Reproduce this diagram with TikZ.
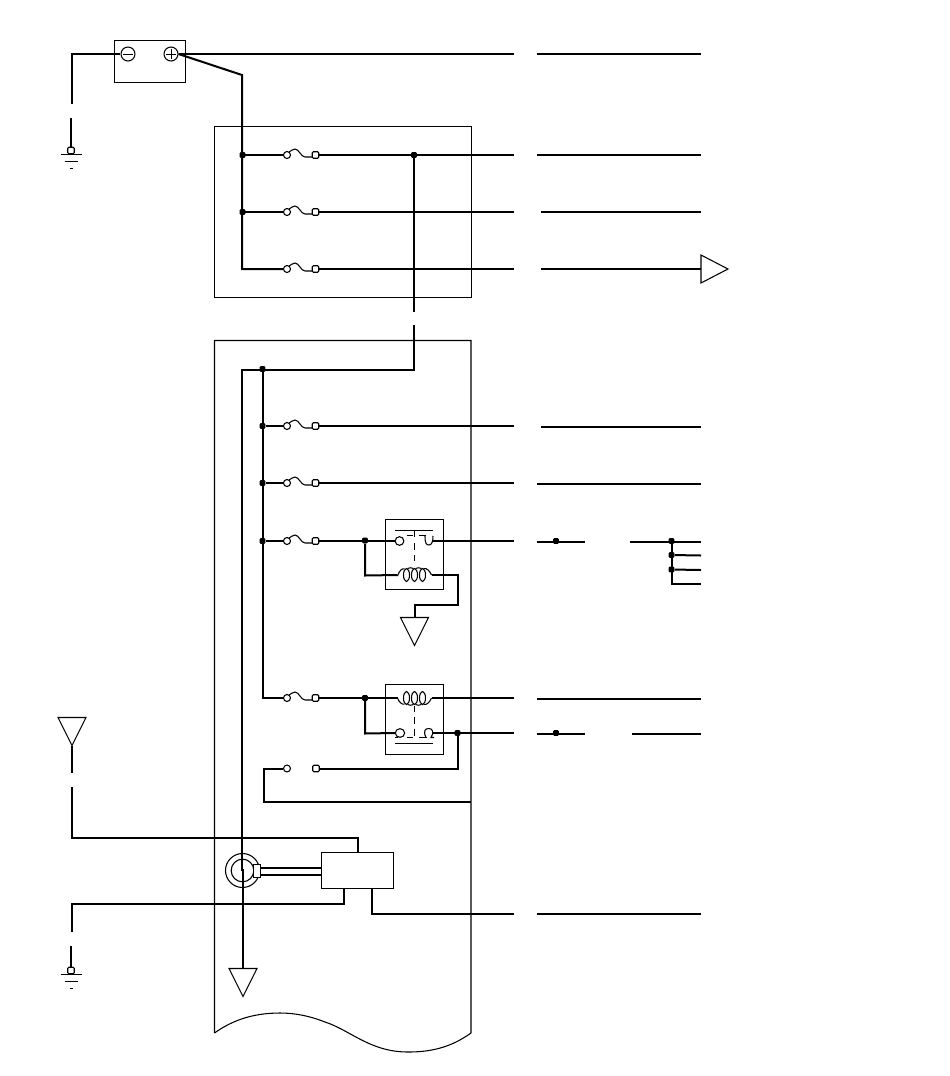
\documentclass[tikz,border=0pt]{standalone}
\usetikzlibrary{shapes.geometric}
\tikzset{
  x=0.75pt, y=-0.75pt,
  thinl/.style={line width=0.8pt, black},
  wire/.style={line width=1.5pt, black, line join=miter},
  jdot/.style={rectangle, rounded corners=0.8pt, fill=black, inner sep=0pt, minimum size=4.2pt},
  unit/.style={draw, line width=0.8pt, inner sep=0pt, outer sep=0pt},
  tinysq/.style={draw, line width=0.8pt, inner sep=0pt, outer sep=0pt, minimum size=4.9pt, rounded corners=0.9pt},
  pics/fuse/.style={code={
    \draw[thinl] (0,0) circle[radius=3.5];
    \draw[thinl] (2,-3) .. controls (4,-4) and (6,-6) .. (8,-6) .. controls (12,-6) and (14,2) .. (18,2) -- (25,2);
    \node[tinysq] (-sq) at (28.5,0) {};
    \coordinate (-in) at (-4,0);
    \coordinate (-out) at (32,0);
  }},
  pics/ground/.style={code={
    \node[tinysq] (-sq) at (0,0) {};
    \draw[thinl] (-10.5,4) -- (10.5,4);
    \draw[thinl] (-6.5,11) -- (6.5,11);
    \draw[thinl] (-1.5,18) -- (1.5,18);
    \coordinate (-top) at (0,-3.5);
  }},
  pics/tridown/.style={code={
    \draw[thinl] (-14,0) -- (14,0) -- (0,28) -- cycle;
    \coordinate (-top) at (0,0);
    \coordinate (-tip) at (0,28);
  }},
  pics/coilup/.style={code={
    \draw[thinl] (-17,1) .. controls (-15,-5) and (-12,-7) .. (-10,-6);
    \foreach \c in {-8,0,8} {
      \draw[thinl] (\c,0) ellipse[x radius=3, y radius=6.5];
    }
    \draw[thinl] (-7,-6.5) .. controls (-5,-7.5) and (-3,-7.5) .. (-1,-6.5);
    \draw[thinl] (1,-6.5) .. controls (3,-7.5) and (5,-7.5) .. (7,-6.5);
    \draw[thinl] (9,-6.5) .. controls (13,-7) and (15,-4) .. (17,0);
    \coordinate (-l) at (-17,0);
    \coordinate (-r) at (17,0);
  }},
  pics/coildown/.style={code={
    \draw[thinl] (-17,0) .. controls (-15,5) and (-12,7) .. (-10,6);
    \foreach \c in {-8,0,8} {
      \draw[thinl] (\c,0) ellipse[x radius=3, y radius=6.5];
    }
    \draw[thinl] (-7,6.5) .. controls (-5,7.5) and (-3,7.5) .. (-1,6.5);
    \draw[thinl] (1,6.5) .. controls (3,7.5) and (5,7.5) .. (7,6.5);
    \draw[thinl] (9,6.5) .. controls (13,7) and (15,4) .. (17,0);
    \coordinate (-l) at (-17,0);
    \coordinate (-r) at (17,0);
  }},
}
\begin{document}
\begin{tikzpicture}
\useasboundingbox (0,0) rectangle (950,1076);
% housings
\node[unit, anchor=north west, minimum width=192.4pt, minimum height=128.25pt] (bx1) at (214.5,126.5) {};
\draw[thinl] (214.5,1033) -- (214.5,340.5) -- (471,340.5) -- (471,1033)
  .. controls (450,1048) and (430,1052) .. (408,1052)
  .. controls (370,1052) and (350,1030) .. (325,1022)
  .. controls (310,1016) and (295,1013) .. (280,1013)
  .. controls (250,1013) and (230,1022) .. (214.5,1033);
% battery
\node[unit, anchor=north west, minimum width=53.25pt, minimum height=31.5pt] (bat) at (114.5,40.5) {};
\node[draw, circle, line width=0.8pt, inner sep=0pt, minimum size=10.5pt] (neg) at (128,54) {};
\node[draw, circle, line width=0.8pt, inner sep=0pt, minimum size=10.5pt] (pos) at (171,54) {};
\draw[thinl] (123,54.5) -- (133,54.5);
\draw[thinl] (166,54.5) -- (176,54.5) (171.5,49) -- (171.5,59);
% grounds and triangles
\pic (g1) at (71,150.5) {ground};
\pic (g2) at (71,970.5) {ground};
\pic (t1) at (72,717.5) {tridown};
\pic (t2) at (414.5,617.5) {tridown};
\pic (t3) at (243,968.5) {tridown};
\draw[thinl] (701,255) -- (728,269) -- (701,283) -- cycle;
\coordinate (t4) at (701,269);
% fuses
\pic (f1) at (287,155) {fuse};
\pic (f2) at (287,212) {fuse};
\pic (f3) at (287,269) {fuse};
\pic (f4) at (287,426) {fuse};
\pic (f5) at (287,483) {fuse};
\pic (f6) at (287,541) {fuse};
\pic (f7) at (287,698) {fuse};
% open link
\node[draw, circle, line width=0.8pt, inner sep=0pt, minimum size=5.2pt] (l1) at (287,768.5) {};
\node[tinysq] (l2) at (316,768.5) {};
% relay 1
\node[unit, anchor=north west, minimum width=43.5pt, minimum height=52.5pt] (re1) at (385.5,519.5) {};
\node[draw, circle, line width=0.8pt, inner sep=0pt, minimum size=6.5pt] (c1) at (399.5,541) {};
\draw[thinl] (395,530.5) -- (433,530.5);
\draw[thinl] (407,535.5) -- (413,535.5) (419,535.5) -- (426,535.5);
\draw[thinl] (425,535.5) .. controls (425,543) and (426,545) .. (429,545) .. controls (432,545) and (433,541) .. (433,536);
\draw[thinl] (414.5,530) -- (414.5,537) (414.5,543) -- (414.5,550) (414.5,555) -- (414.5,561);
\pic (k1) at (414.5,575) {coilup};
% relay 2
\node[unit, anchor=north west, minimum width=43.5pt, minimum height=52.5pt] (re2) at (385.5,684.5) {};
\node[draw, ellipse, line width=0.8pt, inner sep=0pt, minimum width=7pt, minimum height=6.5pt] (c2) at (400,733) {};
\draw[thinl] (395,743.5) -- (433,743.5);
\draw[thinl] (395,737.5) -- (398,737.5) (407,737.5) -- (413,737.5) (419,737.5) -- (427,737.5);
\draw[thinl] (426,737.5) .. controls (423,731) and (425,728.5) .. (429,728.5) .. controls (433,728.5) and (434,733) .. (431,737.5) -- (434,737.5);
\draw[thinl] (414.5,706) -- (414.5,712) (414.5,717) -- (414.5,724) (414.5,729) -- (414.5,736);
\pic (k2) at (414.5,698) {coildown};
% ECU and current sensor
\node[unit, anchor=north west, minimum width=54pt, minimum height=27pt] (ecu) at (321.5,852.5) {};
\node[draw, circle, line width=0.8pt, inner sep=0pt, minimum size=25.5pt] (ct) at (242.5,870.5) {};
\node[draw, circle, line width=0.8pt, inner sep=0pt, minimum size=17pt] (cti) at (242.5,870.5) {};
\node[unit, fill=white, anchor=north west, minimum width=5.25pt, minimum height=9.75pt] (ctb) at (253.5,864.5) {};
\draw[wire] (ctb.east |- 0,867.5) -- (ecu.west |- 0,867.5);
\draw[wire] (ctb.east |- 0,875) -- (ecu.west |- 0,875);
% wires
\coordinate (a1) at (72,104);
\coordinate (a2) at (71,118);
\draw[wire] (neg.west) -- (72,54) -- (a1);
\draw[wire] (a2) -- (g1-top);
\coordinate (w1) at (514,54); \coordinate (e1a) at (537,54); \coordinate (e1b) at (701,54);
\draw[wire] (pos.east) -- (w1);
\draw[wire] (e1a) -- (e1b);
\coordinate (bus) at (242,75);
\draw[wire] (pos.east) -- (bus) -- (242,269) -- (f3-in);
\draw[wire] (242,155) -- (f1-in);
\draw[wire] (242,212) -- (f2-in);
\node[jdot] (j1) at (242.5,155) {};
\node[jdot] (j2) at (242.5,212) {};
\coordinate (w2) at (514,155); \coordinate (e2a) at (537,155); \coordinate (e2b) at (701,155);
\coordinate (w3) at (514,212); \coordinate (e3a) at (541,212); \coordinate (e3b) at (701,212);
\coordinate (w4) at (514,269); \coordinate (e4a) at (541,269);
\draw[wire] (f1-out) -- (w2); \draw[wire] (e2a) -- (e2b);
\draw[wire] (f2-out) -- (w3); \draw[wire] (e3a) -- (e3b);
\draw[wire] (f3-out) -- (w4); \draw[wire] (e4a) -- (t4);
\node[jdot] (j3) at (414,155) {};
\coordinate (d1) at (414,312); \coordinate (d2) at (414,325);
\draw[wire] (j3) -- (d1);
\draw[wire] (d2) -- (414,370) -- (242,370) -- (242,870) -- (243,870) -- (t3-top);
\draw[wire] (263,370) -- (263,698) -- (f7-in);
\node[jdot] (j4) at (262.5,369) {};
\node[jdot] (j5) at (262.5,426) {};
\node[jdot] (j6) at (262.5,483) {};
\node[jdot] (j7) at (262.5,541) {};
\draw[wire] (j5) -- (f4-in);
\draw[wire] (j6) -- (f5-in);
\draw[wire] (j7) -- (f6-in);
\coordinate (w5) at (514,426); \coordinate (e5a) at (541,427); \coordinate (e5b) at (701,427);
\coordinate (w6) at (514,483); \coordinate (e6a) at (537,484); \coordinate (e6b) at (701,484);
\draw[wire] (f4-out) -- (w5); \draw[wire] (e5a) -- (e5b);
\draw[wire] (f5-out) -- (w6); \draw[wire] (e6a) -- (e6b);
% relay 1 wiring
\draw[wire] (f6-out) -- (c1.west);
\node[jdot] (j8) at (365,540.5) {};
\draw[wire] (j8) -- (365,575.5) -- (k1-l);
\draw[wire] (k1-r) -- (458,575) -- (458,604.5) -- (414.5,604.5) -- (t2-top);
\coordinate (c1o) at (433,541);
\coordinate (w7) at (514,541);
\draw[wire] (c1o) -- (w7);
\coordinate (e7a) at (537,541.5); \coordinate (e7b) at (585,541.5);
\draw[wire] (e7a) -- (e7b);
\node[jdot] at (556,541) (j9) {};
\coordinate (e7c) at (630,541.5); \coordinate (e7d) at (701,541.5);
\draw[wire] (e7c) -- (e7d);
\node[jdot] (j10) at (671.5,541) {};
\node[jdot] (j11) at (671.5,555) {};
\node[jdot] (j12) at (671.5,569.5) {};
\coordinate (e8) at (701,555.5); \coordinate (e9) at (701,570); \coordinate (e10) at (701,583.5);
\draw[wire] (j10) -- (671.5,583.5) -- (e10);
\draw[wire] (j11) -- (e8);
\draw[wire] (j12) -- (e9);
% relay 2 wiring
\draw[wire] (f7-out) -- (k2-l);
\node[jdot] (j13) at (365,698) {};
\draw[wire] (j13) -- (365,733.5) -- (c2.west);
\coordinate (w8) at (514,698); \coordinate (e11a) at (537,698.5); \coordinate (e11b) at (701,698.5);
\draw[wire] (k2-r) -- (w8);
\draw[wire] (e11a) -- (e11b);
\coordinate (c2o) at (433,733);
\coordinate (w9) at (514,733);
\draw[wire] (c2o) -- (w9);
\node[jdot] (j14) at (457.5,733) {};
\draw[wire] (j14) -- (457.5,768.5) -- (l2.east);
\coordinate (e12a) at (537,733.5); \coordinate (e12b) at (585,733.5);
\coordinate (e12c) at (632,733.5); \coordinate (e12d) at (701,733.5);
\draw[wire] (e12a) -- (e12b); \draw[wire] (e12c) -- (e12d);
\node[jdot] (j15) at (556,733) {};
\coordinate (bxr) at (471,802);
\draw[wire] (l1.west) -- (264,768.5) -- (264,802) -- (bxr);
% antenna-side and ground-side wires to ECU
\coordinate (a3) at (72,773); \coordinate (a4) at (72,787);
\draw[wire] (t1-tip) -- (a3);
\draw[wire] (a4) -- (72,838) -- (357.5,838) -- (357.5,852.5);
\coordinate (a5) at (72,932); \coordinate (a6) at (71,946);
\draw[wire] (343.5,888.5) -- (343.5,904) -- (72,904) -- (a5);
\draw[wire] (a6) -- (g2-top);
\coordinate (w10) at (514,913.5); \coordinate (e13a) at (537,913.5); \coordinate (e13b) at (701,913.5);
\draw[wire] (372,888.5) -- (372,913.5) -- (w10);
\draw[wire] (e13a) -- (e13b);
\end{tikzpicture}
\end{document}
